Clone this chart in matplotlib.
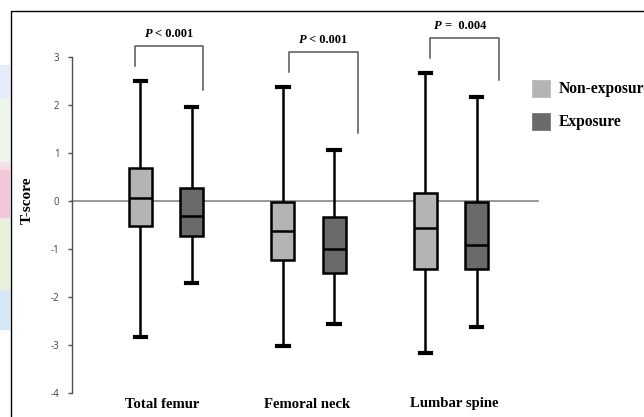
import matplotlib
matplotlib.use("Agg")
import matplotlib.pyplot as plt
from matplotlib.patches import Rectangle
from matplotlib.lines import Line2D
from matplotlib.offsetbox import TextArea, HPacker, AnnotationBbox

# ---------------- data ----------------
categories = ["Total femur", "Femoral neck", "Lumbar spine"]
groups = ["Non-exposure", "Exposure"]
# per category: [non-exposure, exposure]
whis_hi = [[2.50, 1.96], [2.38, 1.06], [2.67, 2.17]]
q3 = [[0.69, 0.27], [-0.02, -0.33], [0.17, -0.02]]
med = [[0.06, -0.31], [-0.63, -1.00], [-0.57, -0.92]]
q1 = [[-0.52, -0.73], [-1.23, -1.50], [-1.42, -1.42]]
whis_lo = [[-2.83, -1.71], [-3.02, -2.57], [-3.17, -2.63]]
p_labels = ["< 0.001", "< 0.001", "=  0.004"]
y_ticks = [-4, -3, -2, -1, 0, 1, 2, 3]

# ---------------- style ----------------
W, H = 644, 417
light = "#b4b4b4"
dark = "#6a6a6a"
serif = ["Liberation Serif", "DejaVu Serif"]

fig = plt.figure(figsize=(W / 100, H / 100), dpi=100)
ax = fig.add_axes([0, 0, 1, 1])
x0, xs = 166.0, 142.5   # pixel of first group, pixels per group
y0, ys = 201.0, 48.0    # pixel (from top) of T=0, pixels per unit
ax.set_xlim(-x0 / xs, (W - x0) / xs)
ax.set_ylim((y0 - H) / ys, y0 / ys)
ax.patch.set_visible(False)

for s in ["top", "right", "bottom"]:
    ax.spines[s].set_visible(False)
ax.spines["left"].set_position(("data", (72 - x0) / xs))
ax.spines["left"].set_bounds(min(y_ticks), max(y_ticks))
ax.spines["left"].set_color("#505050")
ax.spines["left"].set_linewidth(1.0)
ax.set_yticks(y_ticks)
ax.set_yticklabels([str(t) for t in y_ticks], fontsize=7, color="#404040",
                   family=["Open Sans", "DejaVu Sans"])
ax.tick_params(axis="y", length=3, width=1.0, color="#505050", pad=6)
ax.set_xticks([])

# zero line
ax.plot([(72 - x0) / xs, (538 - x0) / xs], [0, 0], color="#888888", lw=1.2,
        zorder=1, clip_on=False)

off = 0.18
stats, pos, colors = [], [], []
for i in range(len(categories)):
    for j in range(2):
        stats.append(dict(med=med[i][j], q1=q1[i][j], q3=q3[i][j],
                          whislo=whis_lo[i][j], whishi=whis_hi[i][j], fliers=[]))
        pos.append(i + (-off if j == 0 else off))
        colors.append(light if j == 0 else dark)

bp = ax.bxp(stats, positions=pos, widths=0.16, capwidths=0.08,
            patch_artist=True, showfliers=False, manage_ticks=False,
            boxprops=dict(edgecolor="black", linewidth=1.8),
            medianprops=dict(color="black", linewidth=1.8),
            whiskerprops=dict(color="black", linewidth=1.8),
            capprops=dict(color="black", linewidth=3.0))
for b, c in zip(bp["boxes"], colors):
    b.set_facecolor(c)
    b.set_zorder(3)
for m in bp["medians"]:
    m.set_zorder(4)

# significance brackets
left_dx = [-0.04, 0.04, 0.03]
right_dx = [0.08, 0.17, 0.16]
text_dx = [0.0, 0.0, -0.03]
for i in range(len(categories)):
    top = max(whis_hi[i]) + 0.73
    xl = i - off + left_dx[i]
    xr = i + off + right_dx[i]
    ax.plot([xl, xl, xr, xr], [whis_hi[i][0] + 0.31, top, top, whis_hi[i][1] + 0.35],
            color="#555555", lw=1.1, clip_on=False)
    pk = HPacker(children=[
        TextArea("P ", textprops=dict(family=serif, fontweight="bold",
                                      fontstyle="italic", fontsize=9)),
        TextArea(p_labels[i], textprops=dict(family=serif, fontweight="bold",
                                             fontsize=9))],
        align="baseline", pad=0, sep=0)
    ab = AnnotationBbox(pk, ((xl + xr) / 2 + text_dx[i], top + 0.25), frameon=False,
                        box_alignment=(0.5, 0.5), pad=0)
    ax.add_artist(ab)

# category labels
label_dx = [-0.03, -0.01, 0.02]
for i, c in enumerate(categories):
    ax.text(i + label_dx[i], (y0 - 404) / ys, c, ha="center", va="center",
            family=serif, fontweight="bold", fontsize=10.6)

# y label
fig.text(27 / W, 1 - 200 / H, "T-score", rotation=90, ha="center", va="center",
         family=serif, fontweight="bold", fontsize=11)

# legend (manual)
for k, (g, c) in enumerate(zip(groups, [light, dark])):
    ytop = 80 + 33 * k
    fig.patches.append(Rectangle((532 / W, 1 - (ytop + 17) / H), 18 / W, 17 / H,
                                 transform=fig.transFigure, facecolor=c,
                                 edgecolor=c, lw=0.5))
    fig.text(559 / W, 1 - (ytop + 9) / H, g, ha="left", va="center",
             family=serif, fontweight="bold", fontsize=11.2)

# outer frame
fig.add_artist(Line2D([11 / W, 11 / W, 1.0], [0, 1 - 11 / H, 1 - 11 / H],
                      transform=fig.transFigure, color="black", lw=1.0))
# coloured strip at left edge
strip = [(65, 98, "#e3ecf8"), (98, 162, "#eef5ea"), (162, 170, "#f6dde6"),
         (170, 218, "#f4c6da"), (218, 290, "#e7f0dc"), (290, 330, "#d5e6f4")]
for a, b, c in strip:
    fig.patches.append(Rectangle((0, 1 - b / H), 10 / W, (b - a) / H,
                                 transform=fig.transFigure, facecolor=c,
                                 edgecolor="none"))

fig.savefig("out.png", dpi=100)
